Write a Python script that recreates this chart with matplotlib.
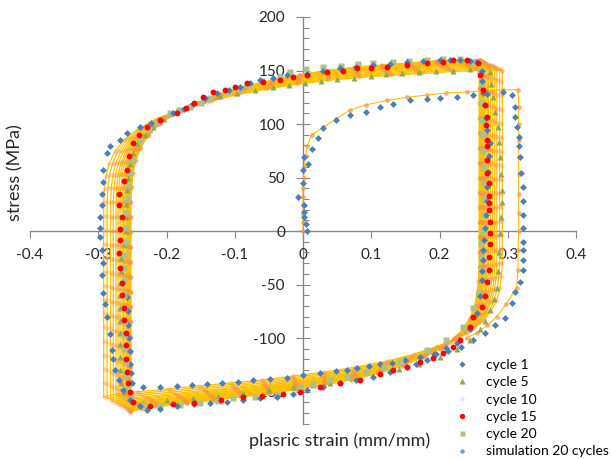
import matplotlib
matplotlib.use('Agg')
import matplotlib.pyplot as plt
from matplotlib.lines import Line2D
import numpy as np

plt.rcParams['font.family'] = ['Lato', 'DejaVu Sans']

# ---- cycle 1 (test) ----
cycle1_x = [0.006, 0.004, 0.001, 0.001, 0.002, -0.007, 0.0, 0.0, 0.002, 0.007, 0.013, 0.022, 0.03, 0.049,
            0.069, 0.093, 0.113, 0.132, 0.157, 0.181, 0.2, 0.225, 0.249, 0.269, 0.293, 0.306,
            0.31, 0.311, 0.314, 0.316, 0.317, 0.318, 0.32, 0.322, 0.323, 0.323, 0.323, 0.323, 0.323,
            0.323, 0.322, 0.318, 0.31, 0.306, 0.296, 0.281, 0.266, 0.249,
            0.232, 0.212, 0.192, 0.171, 0.15, 0.13, 0.113, 0.096, 0.079, 0.064, 0.049, 0.025, 0.0,
            -0.024, -0.048, -0.073, -0.095, -0.118, -0.14, -0.162, -0.185, -0.21, -0.235,
            -0.25, -0.252, -0.253, -0.254, -0.255, -0.256, -0.257, -0.258]
cycle1_y = [0, 7, 13, 18, 24, 32, 45, 57, 69, 63, 77, 87, 96, 104,
            108, 111, 116, 119, 122, 123, 124, 125, 127, 128, 130, 127,
            116, 107, 97, 88, 79, 69, 54, 41, 28, 15, 3, -10, -18,
            -27, -36, -48, -57, -67, -81, -88, -95, -102,
            -108, -112, -115, -118, -121, -123, -124, -126, -128, -130, -131, -133, -135,
            -137, -138, -139, -141, -142, -143, -144, -145, -146, -146,
            -142, -133, -124, -112, -100, -88, -75, -62]

# ---- cycle 5 ----
cycle5_x = [-0.234, -0.25, -0.262, -0.266, -0.268, -0.268, -0.268, -0.268, -0.268, -0.268, -0.268, -0.268,
            -0.267, -0.266, -0.263, -0.26, -0.26, -0.259, -0.258, -0.256, -0.253, -0.249, -0.243, -0.232,
            -0.22, -0.203, -0.185, -0.166, -0.146, -0.122, -0.097, -0.07, -0.044, -0.02, 0.003, 0.026,
            0.05, 0.075, 0.1, 0.122, 0.145, 0.17, 0.195, 0.22, 0.245, 0.274,
            0.276, 0.278, 0.282, 0.285, 0.287, 0.288, 0.29, 0.291, 0.291, 0.29, 0.288, 0.287, 0.285,
            0.284, 0.28, 0.274, 0.267, 0.259, 0.245, 0.225, 0.2, 0.17, 0.14, 0.113, 0.08, 0.04, 0.015,
            -0.015, -0.05, -0.088, -0.125, -0.161, -0.2]
cycle5_y = [-161, -157, -150, -142, -130, -118, -106, -95, -84, -72, -60, -49,
            -37, -25, -12, 0, 13, 25, 38, 50, 63, 73, 82, 90,
            97, 105, 113, 118, 122, 126, 129, 132, 135, 136, 138, 140,
            142, 143, 145, 147, 148, 149, 150, 150, 151, 149,
            137, 125, 111, 97, 83, 69, 53, 38, 27, 13, -2, -20, -37,
            -53, -64, -74, -84, -92, -102, -110, -118, -124, -129, -133, -138, -142, -144,
            -146, -149, -151, -154, -156, -158]

# ---- cycle 15 ----
cycle15_x = [-0.249, -0.253, -0.256, -0.258, -0.26, -0.26, -0.26, -0.262, -0.263, -0.265, -0.265, -0.268,
             -0.27, -0.268, -0.268, -0.265, -0.27, -0.27, -0.263, -0.258, -0.255, -0.249, -0.24, -0.229,
             -0.21, -0.185, -0.172, -0.16, -0.146, -0.132, -0.115, -0.1, -0.082, -0.058, -0.034, -0.014,
             0.006, 0.035, 0.059, 0.079, 0.1, 0.123, 0.152, 0.181, 0.205, 0.22, 0.24, 0.256, 0.259,
             0.264, 0.266, 0.269, 0.268, 0.27, 0.27, 0.27, 0.27, 0.272, 0.272, 0.272, 0.273, 0.274,
             0.274, 0.274, 0.273, 0.272, 0.27, 0.266, 0.262, 0.249, 0.245, 0.23, 0.22, 0.205, 0.19,
             0.171, 0.152, 0.132, 0.113, 0.083, 0.054, 0.025, -0.004, -0.03, -0.06, -0.088, -0.12,
             -0.16, -0.19, -0.224]
cycle15_y = [-160, -150, -142, -132, -120, -107, -95, -83, -72, -60, -49, -35,
             -21, -8, 2, 13, 24, 35, 47, 57, 70, 82, 90, 97,
             104, 110, 115, 120, 125, 130, 132, 135, 138, 139, 141, 144,
             146, 149, 150, 152, 152, 153, 155, 157, 158, 160, 160, 157, 146,
             132, 118, 107, 99, 85, 79, 66, 54, 45, 33, 26, 20, 8,
             -2, -12, -24, -36, -48, -61, -71, -80, -90, -102, -108, -114, -119,
             -122, -127, -130, -134, -139, -142, -146, -150, -152, -154, -155, -158,
             -161, -162, -164]

# ---- cycle 20 ----
cycle20_x = [-0.209, -0.235, -0.252, -0.258, -0.26, -0.26, -0.262, -0.262, -0.263, -0.263, -0.263, -0.262,
             -0.262, -0.261, -0.26, -0.26, -0.259, -0.258, -0.257, -0.254, -0.25, -0.239, -0.225, -0.214,
             -0.195, -0.18, -0.166, -0.15, -0.136, -0.11, -0.092, -0.082, -0.06, -0.034, -0.019, 0.005,
             0.03, 0.055, 0.08, 0.103, 0.132, 0.155, 0.181, 0.205, 0.23, 0.25,
             0.26, 0.262, 0.262, 0.262, 0.263, 0.264, 0.265, 0.265, 0.265, 0.265, 0.264, 0.261, 0.261,
             0.261, 0.258, 0.249, 0.234, 0.21, 0.181, 0.142, 0.118, 0.093, 0.065, 0.04, 0.015, -0.005,
             -0.038, -0.07, -0.102, -0.125, -0.151, -0.18]
cycle20_y = [-164, -163, -157, -147, -135, -122, -110, -97, -85, -72, -60, -47,
             -35, -22, -10, 3, 17, 30, 43, 55, 66, 85, 94, 101,
             110, 113, 116, 120, 124, 130, 133, 136, 140, 144, 149, 151,
             153, 154, 156, 157, 158, 159, 160, 161, 161, 158,
             150, 138, 120, 104, 90, 75, 60, 45, 30, 15, 0, -11, -24,
             -36, -57, -72, -90, -102, -111, -122, -127, -132, -136, -139, -143, -146,
             -153, -155, -156, -159, -161, -163]

# ---- simulation 20 cycles (blue points) ----
simpts_x = [-0.229, -0.239, -0.253, -0.264, -0.27, -0.275, -0.278, -0.28, -0.283, -0.287, -0.29, -0.293,
            -0.294, -0.293, -0.295, -0.297, -0.297, -0.297, -0.295, -0.294, -0.293, -0.293, -0.287, -0.283,
            -0.268, -0.258, -0.239, -0.222, -0.209, -0.19, -0.175, -0.161, -0.143, -0.126, -0.109, -0.092,
            -0.078, -0.063, -0.044, -0.023, 0.006, 0.03, 0.054, 0.078, 0.103, 0.128, 0.152, 0.176, 0.2,
            0.215, 0.23, 0.245, 0.255,
            0.262, 0.263, 0.264, 0.266, 0.268, 0.27, 0.274, 0.272, 0.271, 0.27, 0.27, 0.268, 0.266,
            0.265, 0.264, 0.264, 0.262, 0.262, 0.259, 0.255, 0.244, 0.225, 0.21, 0.195, 0.181, 0.166,
            0.152, 0.128, 0.103, 0.078, 0.054, 0.03, 0.006, -0.015, -0.038, -0.063, -0.088, -0.112,
            -0.136, -0.16, -0.185, -0.209]
simpts_y = [-167, -164, -158, -149, -139, -130, -120, -111, -96, -80, -68, -58,
            -41, -30, -18, -6, 3, 13, 24, 35, 46, 57, 73, 79,
            85, 92, 97, 101, 104, 110, 114, 119, 124, 129, 132, 135,
            138, 141, 143, 146, 147, 150, 152, 153, 155, 156, 158, 159, 160,
            160, 160, 159, 158,
            150, 140, 129, 118, 106, 94, 82, 70, 55, 41, 28, 15, 3,
            -8, -18, -27, -37, -46, -61, -77, -92, -105, -109, -115, -121, -124,
            -127, -132, -136, -139, -142, -146, -149, -152, -155, -156, -158, -160,
            -161, -162, -164, -166]

# ---- simulation lines: first loading, base (last) loop and loop extents per cycle ----
sim0_x = [0.0, 0.0, 0.0, 0.0, 0.0, 0.0, 0.001, 0.002, 0.004, 0.006, 0.013, 0.03, 0.049, 0.069, 0.093,
          0.123, 0.152, 0.181, 0.21, 0.24, 0.269, 0.293, 0.315, 0.316, 0.316, 0.316, 0.316, 0.316,
          0.316, 0.316, 0.316, 0.315, 0.315, 0.313, 0.298, 0.284, 0.27, 0.255, 0.24]
sim0_y = [0, 8, 16, 24, 32, 40, 50, 60, 70, 79, 90, 97, 105, 113, 118,
          122, 125, 127, 129, 130, 131, 132, 132, 116, 100, 85, 69, 53,
          35, 17, 0, -18, -36, -53, -68, -80, -88, -95, -100]

sim_base_x = [0.258, 0.258, 0.258, 0.258, 0.258, 0.258, 0.258, 0.258, 0.258, 0.258, 0.258, 0.258, 0.258,
              0.258, 0.258, 0.257, 0.255, 0.251, 0.244, 0.234, 0.22, 0.2, 0.175, 0.145, 0.11, 0.07, 0.03,
              -0.01, -0.05, -0.09, -0.13, -0.17, -0.21, -0.235, -0.252,
              -0.252, -0.252, -0.252, -0.252, -0.252, -0.252, -0.252, -0.252, -0.252, -0.252, -0.252,
              -0.252, -0.252, -0.252, -0.251, -0.249, -0.245, -0.238, -0.226, -0.208, -0.185, -0.155,
              -0.12, -0.085, -0.045, -0.005, 0.035, 0.075, 0.115, 0.155, 0.195, 0.23, 0.258]
sim_base_y = [160, 148, 134, 120, 106, 92, 78, 64, 50, 36, 22, 8, -6,
              -20, -34, -47, -59, -71, -82, -92, -101, -110, -118, -126, -133, -139, -144,
              -148, -152, -155, -158, -161, -164, -166, -169,
              -155, -141, -127, -113, -99, -85, -71, -57, -43, -29, -15,
              -1, 13, 27, 41, 54, 66, 78, 90, 101, 111, 120,
              128, 135, 141, 146, 150, 153, 155, 157, 159, 160, 160]

sim_xl = [-0.292, -0.287, -0.282, -0.278, -0.274, -0.271, -0.268, -0.265, -0.263, -0.261,
          -0.259, -0.258, -0.257, -0.256, -0.255, -0.254, -0.254, -0.253, -0.253, -0.252]
sim_xr = [0.292, 0.288, 0.284, 0.281, 0.278, 0.275, 0.272, 0.270, 0.268, 0.266,
          0.265, 0.264, 0.263, 0.262, 0.261, 0.260, 0.260, 0.259, 0.259, 0.258]
sim_top = [150, 151, 152, 153, 154, 155, 155.5, 156, 156.5, 157,
           157.5, 158, 158.3, 158.6, 159, 159.2, 159.4, 159.6, 159.8, 160]
sim_bot = [-155, -156.5, -158, -159.5, -160.5, -161.5, -162.5, -163.3, -164, -164.7,
           -165.3, -166, -166.5, -167, -167.5, -168, -168.3, -168.6, -168.8, -169]

x_ticks = [-0.4, -0.3, -0.2, -0.1, 0.0, 0.1, 0.2, 0.3, 0.4]
x_tick_labels = ['-0.4', '-0.3', '-0.2', '-0.1', '0', '0.1', '0.2', '0.3', '0.4']
y_ticks = [-150, -100, -50, 0, 50, 100, 150, 200]
y_tick_labels = ['-150', '-100', '-50', '0', '50', '100', '150', '200']

legend_labels = ['cycle 1', 'cycle 5', 'cycle 10', 'cycle 15', 'cycle 20', 'simulation 20 cycles']

BLUE = '#4A7EBB'
GREEN = '#8EA94F'
RED = '#FF0000'
LGREEN = '#A9C18A'
YEL = '#FFC000'
ORANGE = '#F79646'
AXC = '#868686'

fig = plt.figure(figsize=(6.12, 4.59), dpi=100)
ax = fig.add_axes([30 / 612, (459 - 423.6) / 459, 546 / 612, 406.6 / 459])
ax.set_xlim(-0.4, 0.4)
ax.set_ylim(-180, 200)

# simulation loops
ax.plot(sim0_x, sim0_y, color=YEL, lw=0.8, zorder=2)
ax.plot(sim0_x, sim0_y, 'o', ms=3.4, color=ORANGE, alpha=0.7, mec='none', zorder=3)
bx = np.array(sim_base_x)
by = np.array(sim_base_y)
x0, x1 = bx.min(), bx.max()
y0, y1 = by.min(), by.max()
for xl, xr, top, bot in zip(sim_xl, sim_xr, sim_top, sim_bot):
    lx = xl + (bx - x0) * (xr - xl) / (x1 - x0)
    ly = bot + (by - y0) * (top - bot) / (y1 - y0)
    ax.plot(lx, ly, color=YEL, lw=0.9, zorder=2)
    ax.plot(lx, ly, 'o', ms=3.2, color=ORANGE, alpha=0.35, mec='none', zorder=3)

# test data
ax.plot(cycle1_x, cycle1_y, 'D', ms=3.5, color=BLUE, mec='none', zorder=4)
ax.plot(cycle5_x, cycle5_y, '^', ms=4.2, color=GREEN, mec='none', zorder=4)
ax.plot(cycle15_x, cycle15_y, 'o', ms=4.2, color=RED, mec='none', zorder=5)
ax.plot(cycle20_x, cycle20_y, 's', ms=3.8, color=LGREEN, mec='none', zorder=4)
ax.plot(simpts_x, simpts_y, 'D', ms=3.5, color=BLUE, mec='none', zorder=4)

# axes through the origin
for s in ['top', 'right']:
    ax.spines[s].set_visible(False)
ax.spines['left'].set_position(('data', 0))
ax.spines['bottom'].set_position(('data', 0))
for s in ['left', 'bottom']:
    ax.spines[s].set_color(AXC)
    ax.spines[s].set_linewidth(1.0)
    ax.spines[s].set_zorder(1)

ax.set_xticks(x_ticks)
ax.set_xticklabels(x_tick_labels)
ax.set_yticks(y_ticks)
ax.set_yticklabels(y_tick_labels)
ax.set_yticks(np.arange(-180, 201, 10), minor=True)
ax.tick_params(axis='x', direction='out', length=5, width=0.8, color=AXC,
               labelsize=11, labelcolor='#262626', pad=7)
ax.tick_params(axis='y', which='major', direction='inout', length=10, width=0.8, color=AXC,
               labelsize=11, labelcolor='#262626', pad=8)
ax.tick_params(axis='y', which='minor', direction='in', length=4, width=0.8, color=AXC)

fig.text(15 / 612, 1 - 173 / 459, 'stress (MPa)', rotation=90, ha='center', va='center',
         fontsize=13, color='#262626')
fig.text(340 / 612, 1 - 441 / 459, 'plasric strain (mm/mm)', ha='center', va='center',
         fontsize=13, color='#262626')

handles = [
    Line2D([], [], ls='none', marker='D', ms=3.2, color=BLUE, mec='none'),
    Line2D([], [], ls='none', marker='^', ms=4.0, color=GREEN, mec='none'),
    Line2D([], [], ls='none', marker='o', ms=3.2, color='#DCEAF5', mec='none'),
    Line2D([], [], ls='none', marker='o', ms=3.8, color=RED, mec='none'),
    Line2D([], [], ls='none', marker='s', ms=3.6, color=LGREEN, mec='none'),
    Line2D([], [], ls='none', marker='D', ms=2.8, color='#6E9BD0', mec='none'),
]
fig.legend(handles, legend_labels, loc='upper left', bbox_to_anchor=(454 / 612, 1 - 359 / 459),
           frameon=False, fontsize=10, labelspacing=0.38, handlelength=1.2,
           handletextpad=1.1, borderpad=0, borderaxespad=0)

fig.savefig('out.png', dpi=100)
